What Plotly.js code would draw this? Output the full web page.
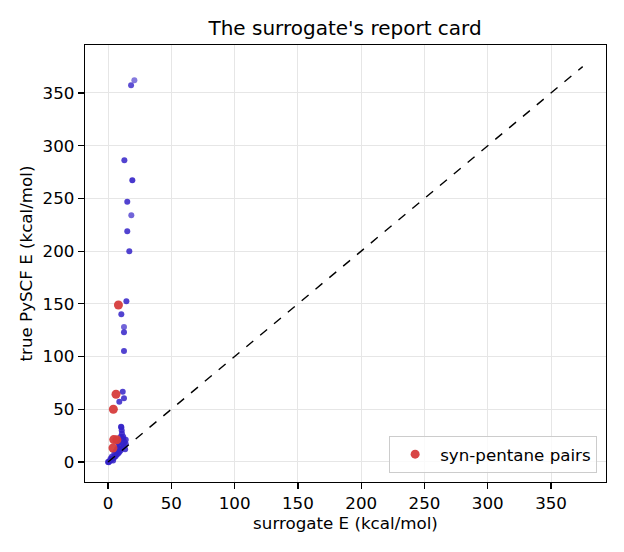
<!DOCTYPE html>
<html>
<head>
<meta charset="utf-8">
<script src="https://cdn.plot.ly/plotly-3.0.1.min.js"></script>
<style>html,body{margin:0;padding:0;background:#fff;}#chart{width:624px;height:552px;}</style>
</head>
<body>
<div id="chart"></div>
<script>
// Blue: all conformer pairs (surrogate E vs true PySCF E)
const blueX = [20.8, 18.2, 12.9, 19.2, 15.2, 18.4, 15.2, 16.8, 14.5, 10.5, 12.6, 12.6, 12.6,
  11.6, 12.6, 8.9, 10.3, 10.5, 10.8, 11.0, 10.0, 12.0, 13.0, 14.0, 12.5, 11.0, 10.0, 9.0, 8.0,
  7.0, 6.0, 5.0, 4.0, 3.0, 2.0, 1.0, 0.0, 0.5, 6.0, 8.0, 9.0, 7.0, 5.0, 3.0, 9.0, 8.0, 14.0, 12.0, 2.0, 4.0, 13.5, 11.5];
const blueY = [362.0, 357.3, 286.2, 267.2, 246.9, 234.0, 218.8, 199.8, 152.4, 140.1, 128.0, 123.0, 105.3,
  66.7, 60.4, 57.2, 33.5, 33.0, 30.0, 27.0, 24.0, 22.0, 19.0, 17.0, 15.0, 13.0, 11.0, 9.5, 8.0,
  7.0, 5.5, 4.5, 3.5, 2.5, 1.5, 0.8, 0.0, -0.3, 10.0, 13.0, 16.0, 12.0, 8.0, 5.0, 20.0, 18.0, 21.0, 24.0, 3.0, 1.5, 12.0, 18.0];
const blueAlpha = [0.6, 0.8, 0.85, 0.9, 0.85, 0.7, 0.85, 0.85, 0.85, 0.85, 0.7, 0.85, 0.85,
  0.85, 0.85, 0.85, 0.85, 0.85, 0.85, 0.85, 0.85, 0.85, 0.85, 0.85, 0.85, 0.85, 0.85, 0.85, 0.85,
  0.85, 0.85, 0.85, 0.85, 0.85, 0.85, 0.85, 0.85, 0.85, 0.85, 0.85, 0.85, 0.85, 0.85, 0.85, 0.85, 0.85, 0.85, 0.85, 0.85, 0.85, 0.85, 0.85];

// Red: syn-pentane pairs
const redX = [8.2, 6.3, 4.2, 4.5, 7.0, 3.9];
const redY = [148.9, 64.2, 50.0, 21.2, 21.0, 13.3];
const redLabel = 'syn-pentane pairs';

// Parity line
const parityX = [0, 375];
const parityY = [0, 375];

const xTicks = [0, 50, 100, 150, 200, 250, 300, 350];
const yTicks = [0, 50, 100, 150, 200, 250, 300, 350];

const font = "'DejaVu Sans', sans-serif";

const traces = [
  {
    x: blueX, y: blueY, type: 'scatter', mode: 'markers', showlegend: false,
    marker: {size: 6, color: blueAlpha.map(a => 'rgba(52,34,200,' + a + ')'), line: {width: 0}}
  },
  {
    x: redX, y: redY, type: 'scatter', mode: 'markers', name: redLabel,
    marker: {size: 9, color: 'rgba(214,60,60,0.95)', line: {width: 0}}
  },
  {
    x: parityX, y: parityY, type: 'scatter', mode: 'lines', showlegend: false,
    line: {color: 'black', width: 1.4, dash: 'dash'}
  }
];

const axisCommon = {
  showline: true, mirror: true, linecolor: 'black', linewidth: 1.2,
  ticks: 'outside', ticklen: 6, tickwidth: 1.2, tickcolor: 'black',
  showgrid: true, gridcolor: '#e6e6e6', gridwidth: 1, zeroline: false,
  tickfont: {family: font, size: 16.7, color: 'black'}
};

const layout = {
  width: 624, height: 552,
  margin: {l: 85, r: 18, t: 45, b: 70},
  paper_bgcolor: 'white', plot_bgcolor: 'white',
  title: {text: "The surrogate's report card", font: {family: font, size: 20, color: 'black'}, x: 0.553, xanchor: 'center', y: 0.949, yanchor: 'middle'},
  xaxis: Object.assign({}, axisCommon, {
    range: [-18.2, 393.4], tickvals: xTicks, ticktext: xTicks.map(String),
    title: {text: 'surrogate E (kcal/mol)', font: {family: font, size: 16.7, color: 'black'}, standoff: 4}
  }),
  yaxis: Object.assign({}, axisCommon, {
    range: [-19, 395.5], tickvals: yTicks, ticktext: yTicks.map(String),
    title: {text: 'true PySCF E (kcal/mol)', font: {family: font, size: 16.7, color: 'black'}, standoff: 5}
  }),
  showlegend: true,
  legend: {
    x: 0.983, xanchor: 'right', y: 0.021, yanchor: 'bottom',
    bgcolor: 'rgba(255,255,255,0.8)', bordercolor: '#cccccc', borderwidth: 1,
    font: {family: font, size: 16.7, color: 'black'}, itemwidth: 40
  }
};

Plotly.newPlot('chart', traces, layout, {displayModeBar: false, staticPlot: true});
</script>
</body>
</html>
